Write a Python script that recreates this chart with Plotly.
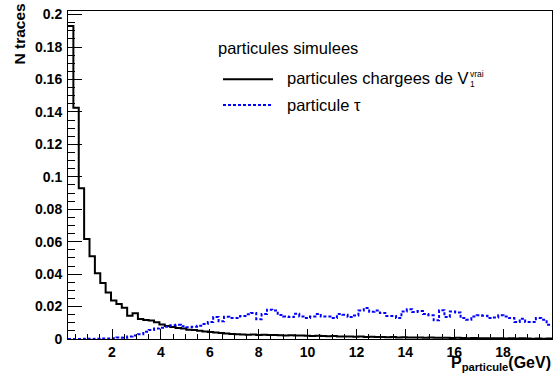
import plotly.graph_objects as go

# Histogram binning: 90 bins of 0.22 GeV between 0.2 and 20 GeV
bin_lo = 0.2
bin_hi = 20.0
n_bins = 90

# Normalised track counts per bin
charged_v1 = [
    0.193, 0.1425, 0.093, 0.0617, 0.051, 0.0405, 0.0345, 0.0286, 0.0238, 0.0215,
    0.0193, 0.0143, 0.0158, 0.0124, 0.0117, 0.0114, 0.0104, 0.0090, 0.0080, 0.0074,
    0.0068, 0.0064, 0.0057, 0.0055, 0.0051, 0.0047, 0.0043, 0.0040, 0.0037, 0.0034,
    0.0031, 0.0029, 0.0027, 0.0026, 0.0027, 0.0025, 0.0026, 0.0024, 0.0025, 0.0023,
    0.0022, 0.0023, 0.0021, 0.0022, 0.0020, 0.0019, 0.0020, 0.0018, 0.0017, 0.0018,
    0.0016, 0.0015, 0.0016, 0.0014, 0.0015, 0.0013, 0.0014, 0.0012, 0.0013, 0.0011,
    0.0012, 0.0010, 0.0011, 0.0009, 0.0010, 0.0009, 0.0008, 0.0009, 0.0007, 0.0008,
    0.0007, 0.0006, 0.0007, 0.0006, 0.0005, 0.0006, 0.0005, 0.0004, 0.0005, 0.0004,
    0.0005, 0.0003, 0.0004, 0.0003, 0.0004, 0.0003, 0.0002, 0.0003, 0.0002, 0.0003,
]

tau = [
    0.0, 0.0, 0.0, 0.0001, 0.0, 0.0002, 0.0003, 0.0003, 0.0005, 0.0009,
    0.0008, 0.0015, 0.0022, 0.0030, 0.0045, 0.0056, 0.0064, 0.0070, 0.0075, 0.0084,
    0.0088, 0.0078, 0.0073, 0.0076, 0.0082, 0.0092, 0.0105, 0.0135, 0.0109, 0.0137,
    0.0129, 0.0129, 0.0142, 0.0152, 0.0160, 0.0122, 0.0154, 0.0181, 0.0176, 0.0148,
    0.0139, 0.0135, 0.0155, 0.0139, 0.0129, 0.0139, 0.0154, 0.0139, 0.0139, 0.0129,
    0.0154, 0.0150, 0.0135, 0.0145, 0.0175, 0.0191, 0.0168, 0.0175, 0.0160, 0.0142,
    0.0142, 0.0129, 0.0170, 0.0183, 0.0166, 0.0172, 0.0154, 0.0146, 0.0115, 0.0177,
    0.0135, 0.0170, 0.0164, 0.0129, 0.0119, 0.0139, 0.0146, 0.0144, 0.0129, 0.0133,
    0.0146, 0.0139, 0.0129, 0.0105, 0.0125, 0.0105, 0.0105, 0.0129, 0.0119, 0.0088,
]

x_tick_vals = [2, 4, 6, 8, 10, 12, 14, 16, 18]
y_tick_vals = [0, 0.02, 0.04, 0.06, 0.08, 0.1, 0.12, 0.14, 0.16, 0.18, 0.2]
y_tick_text = ["0", "0.02", "0.04", "0.06", "0.08", "0.1", "0.12", "0.14", "0.16", "0.18", "0.2"]

assert len(charged_v1) == n_bins and len(tau) == n_bins

width = (bin_hi - bin_lo) / n_bins
edges = [bin_lo + i * width for i in range(n_bins + 1)]


def step_xy(vals):
    # left edges plus the final right edge, drawn with an 'hv' step shape
    return edges, list(vals) + [vals[-1]]


W, H = 553, 376
L, R, T, B = 68, 552, 11, 339


def fx(px):
    return (px - L) / (R - L)


def fy(py):
    return (B - py) / (B - T)


FONT = "Liberation Sans, Arial, sans-serif"

fig = go.Figure()
bx, by = step_xy(charged_v1)
fig.add_trace(go.Scatter(x=bx, y=by, mode="lines", line=dict(color="black", width=2, shape="hv"),
                         name="particules chargees de V1", showlegend=False))
tx, ty = step_xy(tau)
fig.add_trace(go.Scatter(x=tx, y=ty, mode="lines",
                         line=dict(color="#0000ff", width=2, shape="hv", dash="3px,2px"),
                         name="particule tau", showlegend=False))

axis_common = dict(
    showline=True, linecolor="black", linewidth=1, mirror=True,
    ticks="inside", tickcolor="black", tickwidth=1,
    showgrid=False, zeroline=False,
    tickfont=dict(family=FONT, size=14, color="black", weight="bold"),
)

fig.update_xaxes(
    range=[bin_lo, bin_hi], tickmode="array", tickvals=x_tick_vals, ticklen=10,
    minor=dict(dtick=0.5, tick0=0, ticklen=5, ticks="inside", tickcolor="black", showgrid=False),
    **axis_common,
)
fig.update_yaxes(
    range=[0, 0.2022], tickmode="array", tickvals=y_tick_vals, ticktext=y_tick_text, ticklen=14,
    minor=dict(dtick=0.005, tick0=0, ticklen=7, ticks="inside", tickcolor="black", showgrid=False),
    ticklabelstandoff=2,
    **axis_common,
)

# Legend drawn by hand: header, line samples and labels
legend_shapes = [
    dict(type="line", xref="paper", yref="paper", x0=fx(223), x1=fx(273), y0=fy(79.3), y1=fy(79.3),
         line=dict(color="black", width=2)),
    dict(type="line", xref="paper", yref="paper", x0=fx(223), x1=fx(273), y0=fy(105), y1=fy(105),
         line=dict(color="#0000ff", width=2, dash="3px,2px")),
]
for s in legend_shapes:
    fig.add_shape(**s)

legend_font = dict(family=FONT, size=16.5, color="black")
small_font = dict(family=FONT, size=8.5, color="black")
annotations = [
    dict(text="particules simulees", x=fx(217), y=fy(48), xanchor="left", yanchor="middle", font=legend_font),
    dict(text="particules chargees de V", x=fx(285.5), y=fy(78), xanchor="left", yanchor="middle", font=legend_font),
    dict(text="vrai", x=fx(469), y=fy(73.5), xanchor="left", yanchor="middle", font=small_font),
    dict(text="1", x=fx(469), y=fy(84), xanchor="left", yanchor="middle", font=small_font),
    dict(text="particule τ", x=fx(285.5), y=fy(105), xanchor="left", yanchor="middle", font=legend_font),
    dict(text="N traces", textangle=-90, x=fx(19), y=fy(3), xanchor="center", yanchor="top",
         font=dict(family=FONT, size=15.5, color="black", weight="bold")),
    dict(text="P<sub>particule</sub>(GeV)", x=1.0, y=fy(363), xanchor="right", yanchor="middle",
         font=dict(family=FONT, size=16, color="black", weight="bold")),
]
for a in annotations:
    fig.add_annotation(xref="paper", yref="paper", showarrow=False, borderpad=0, **a)

fig.update_layout(
    width=W, height=H,
    margin=dict(l=L, r=W - R, t=T, b=H - B, pad=0),
    paper_bgcolor="white", plot_bgcolor="white",
    showlegend=False,
)

fig.write_html("out.html")
